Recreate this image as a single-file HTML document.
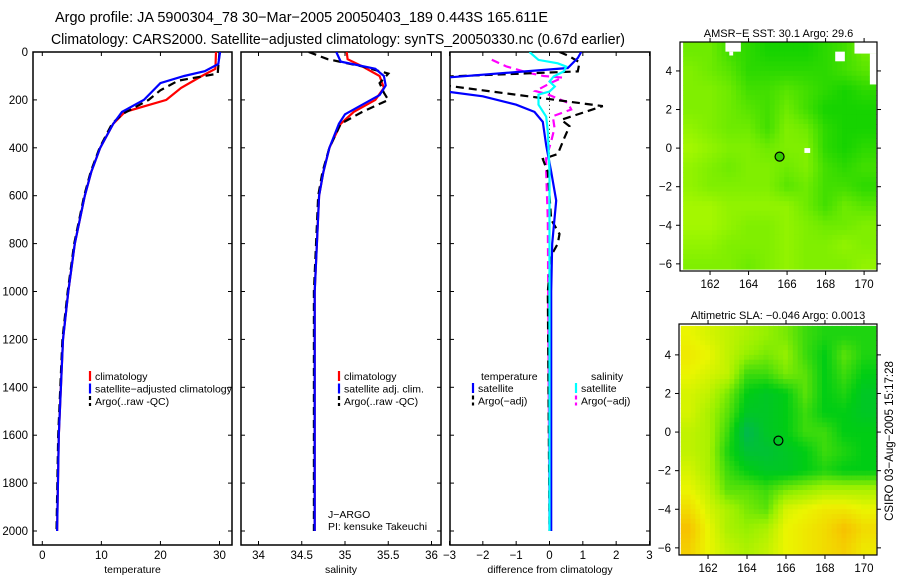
<!DOCTYPE html>
<html><head><meta charset="utf-8"><style>
html,body{margin:0;padding:0;background:#fff;}
svg{display:block;font-family:"Liberation Sans",sans-serif;}
</style></head><body>
<svg id="fig" width="900" height="580" viewBox="0 0 900 580" xmlns="http://www.w3.org/2000/svg">
<text x="55" y="22" font-size="14.5" textLength="493" lengthAdjust="spacingAndGlyphs">Argo profile: JA 5900304_78 30−Mar−2005 20050403_189 0.443S 165.611E</text>
<text x="51" y="44" font-size="14.5" textLength="574" lengthAdjust="spacingAndGlyphs">Climatology: CARS2000. Satellite−adjusted climatology: synTS_20050330.nc (0.67d earlier)</text>
<g id="g"></g>
</svg>
<script>
// ---- profile data ----
const depthTicks=[0,200,400,600,800,1000,1200,1400,1600,1800,2000];
const tempTicks=[0,10,20,30];
const salTicks=[34,34.5,35,35.5,36];
const diffTicks=[-3,-2,-1,0,1,2,3];
const tempClimDepth=[0,70,100,150,200,250,300,400,500,600,800,1000,1200,1600,2000];
const tempClim=[29.4,29.3,27,23.5,21,14,12,9.8,8.3,7.2,5.5,4.4,3.5,2.8,2.5];
const tempSatDepth=[0,50,80,100,130,200,250,300,400,500,600,800,1000,1200,1600,2000];
const tempSat=[30.1,29.8,27.5,24,20,17.2,13.5,12,9.8,8.3,7.2,5.5,4.4,3.5,2.8,2.5];
const tempArgoDepth=[0,90,120,160,200,260,300,400,500,600,800,1000,1200,1600,2000];
const tempArgo=[30,29.7,23,20,18,13.5,11.8,9.7,8.2,7.1,5.4,4.3,3.4,2.7,2.4];
const salClimDepth=[0,30,60,100,150,200,250,300,400,500,600,1000,2000];
const salClim=[35.02,35.03,35.2,35.4,35.45,35.35,35.1,34.95,34.82,34.75,34.7,34.65,34.65];
const salSatDepth=[0,40,70,100,140,180,230,260,300,400,500,600,1000,2000];
const salSat=[34.9,34.95,35.35,35.45,35.47,35.4,35.15,35.0,34.93,34.82,34.75,34.7,34.65,34.65];
const salArgoDepth=[0,30,60,90,130,170,200,250,300,400,500,600,1000,2000];
const salArgo=[34.58,34.8,35.2,35.5,35.4,35.45,35.5,35.2,34.95,34.82,34.74,34.69,34.64,34.64];
const dTSatDepth=[0,25,67,108,135,163,185,220,250,292,390,500,620,800,1000,2000];
const dTSat=[0.95,0.85,0.55,-3.2,-3.6,-3.2,-2,-1,-0.45,-0.2,-0.1,0.05,0.2,0.08,0.05,0.05];
const dTArgoDepth=[0,18,43,81,103,120,138,226,283,310,357,426,447,500,700,760,800,850,1000,2000];
const dTArgo=[0.3,0.6,0.9,0.85,-3.2,-3.6,-3.2,1.6,0.35,0.6,0.45,0.25,-0.2,-0.05,0.05,0.3,0.25,0.05,-0.05,0];
const dSSatDepth=[0,33,47,61,81,102,123,144,165,178,220,270,333,500,2000];
const dSSat=[-0.6,-0.33,0.25,0.5,0.43,0.13,0,0.16,0,-0.33,-0.33,-0.1,-0.05,0,0];
const dSArgoDepth=[32,60,88,100,107,128,163,177,212,240,268,317,373,443,500,700,2000];
const dSArgo=[-1.73,-1.3,-0.6,-0.17,0.4,0.05,-0.42,-0.05,0.55,0.65,0.1,0.15,0.05,-0.1,-0.1,-0.05,0];
// ---- map data (values 0..1), rows lat 5..-6, cols lon 161..170 ----
const mapLats=[5,4,3,2,1,0,-1,-2,-3,-4,-5,-6];
const mapLons=[161,162,163,164,165,166,167,168,169,170];
const sstGrid=[
[0.5,0.5,0.3,0.2,0.1,0.1,0.1,0.2,0.3,0.5],
[0.6,0.5,0.4,0.2,0.2,0.2,0.2,0.2,0.3,0.4],
[0.6,0.6,0.5,0.3,0.3,0.4,0.3,0.2,0.1,0.2],
[0.6,0.6,0.5,0.4,0.3,0.5,0.3,0.1,0.1,0.1],
[0.7,0.6,0.5,0.5,0.3,0.6,0.5,0.2,0.1,0.1],
[0.8,0.7,0.6,0.6,0.5,0.6,0.6,0.2,0.1,0.2],
[0.7,0.6,0.5,0.6,0.6,0.5,0.6,0.3,0.2,0.3],
[0.7,0.6,0.6,0.6,0.6,0.4,0.5,0.3,0.3,0.2],
[0.8,0.8,0.7,0.7,0.7,0.7,0.5,0.3,0.5,0.4],
[0.8,0.8,0.7,0.6,0.6,0.7,0.6,0.5,0.5,0.6],
[0.7,0.7,0.6,0.6,0.6,0.7,0.6,0.6,0.7,0.6],
[0.6,0.6,0.6,0.5,0.6,0.7,0.6,0.6,0.6,0.7]];
const slaGrid=[
[0.75,0.7,0.65,0.6,0.55,0.5,0.4,0.35,0.35,0.35],
[0.8,0.75,0.65,0.55,0.5,0.55,0.4,0.3,0.45,0.35],
[0.75,0.7,0.65,0.4,0.4,0.5,0.45,0.3,0.4,0.3],
[0.7,0.65,0.5,0.3,0.25,0.3,0.45,0.3,0.35,0.25],
[0.7,0.6,0.45,0.25,0.25,0.3,0.4,0.3,0.3,0.25],
[0.65,0.6,0.4,0.12,0.25,0.3,0.4,0.4,0.3,0.3],
[0.65,0.6,0.35,0.2,0.2,0.25,0.3,0.4,0.35,0.3],
[0.7,0.6,0.4,0.3,0.25,0.25,0.3,0.35,0.3,0.3],
[0.75,0.65,0.45,0.45,0.4,0.5,0.55,0.6,0.6,0.6],
[0.85,0.7,0.6,0.5,0.45,0.7,0.75,0.8,0.8,0.75],
[0.95,0.75,0.6,0.55,0.6,0.75,0.8,0.85,0.95,0.85],
[0.9,0.75,0.65,0.6,0.65,0.75,0.8,0.85,0.9,0.8]];
const lonTicks=[162,164,166,168,170];
const latTicks=[4,2,0,-2,-4,-6];
const argoLon=165.611, argoLat=-0.443;

const NS='http://www.w3.org/2000/svg';
const G=document.getElementById('g');
function mk(tag,attrs,parent){const e=document.createElementNS(NS,tag);for(const k in attrs)e.setAttribute(k,attrs[k]);(parent||G).appendChild(e);return e;}
function txt(s,x,y,size,anchor){const e=mk('text',{x:x,y:y,'font-size':size,'text-anchor':anchor||'start'});e.textContent=s;return e;}

const TOP=52, BOT=545;
const yD=d=>TOP+d*0.2395;
function panel(name,L,R,x0,x1,v0,v1,ticks,label,showY){
  const xs=v=>x0+(v-v0)*(x1-x0)/(v1-v0);
  const r=mk('rect',{x:L,y:TOP,width:R-L,height:BOT-TOP,fill:'none',stroke:'#000','stroke-width':1.5});
  
  
  ticks.forEach(t=>{const x=xs(t);
    mk('line',{x1:x,y1:BOT,x2:x,y2:BOT-4,stroke:'#000'});
    mk('line',{x1:x,y1:TOP,x2:x,y2:TOP+4,stroke:'#000'});
    const e=txt(String(t).replace('-','−'),x,559,11.5,'middle');
    
    });
  depthTicks.forEach(d=>{const y=yD(d);
    mk('line',{x1:L,y1:y,x2:L+4,y2:y,stroke:'#000'});
    mk('line',{x1:R,y1:y,x2:R-4,y2:y,stroke:'#000'});
    if(showY){const e=txt(String(d),28,y+4,11.5,'end');
      
      }});
  const a=txt(label,(L+R)/2,573,10.5,'middle');
  
  
  const cp=mk('clipPath',{id:'cp'+name});
  mk('rect',{x:L,y:TOP,width:R-L,height:BOT-TOP},cp);
  return xs;
}
function line(xs,depths,vals,color,dash,name,clip){
  const pts=depths.map((d,i)=>xs(vals[i]).toFixed(1)+','+yD(d).toFixed(1)).join(' ');
  const p=mk('polyline',{points:pts,fill:'none',stroke:color,'stroke-width':2.2,'stroke-dasharray':dash||'none','clip-path':'url(#cp'+clip+')'});
  
  
}
function legend(x,y,items,name){
  items.forEach((it,i)=>{const yy=y+i*12.5;
    mk('line',{x1:x,y1:yy-9,x2:x,y2:yy+1,stroke:it[0],'stroke-width':2.2,'stroke-dasharray':it[2]||'none'});
    const e=txt(it[1],x+5,yy,10.5);
    
    });
}
// temperature
const xT=panel('temperature',33,232,42.3,219.5,0,30,tempTicks,'temperature',true);
line(xT,tempClimDepth,tempClim,'#f00',null,'temperature-climatology-line','temperature');
line(xT,tempArgoDepth,tempArgo,'#000','8,5','temperature-argo-line','temperature');
line(xT,tempSatDepth,tempSat,'#00f',null,'temperature-satellite-line','temperature');
legend(90,380,[['#f00','climatology'],['#00f','satellite−adjusted climatology'],['#000','Argo(..raw -QC)','4,3']],'temperature-legend');
// salinity
const xS=panel('salinity',241,441,258.5,431.5,34,36,salTicks,'salinity',false);
line(xS,salClimDepth,salClim,'#f00',null,'salinity-climatology-line','salinity');
line(xS,salArgoDepth,salArgo,'#000','8,5','salinity-argo-line','salinity');
line(xS,salSatDepth,salSat,'#00f',null,'salinity-satellite-line','salinity');
legend(339,380,[['#f00','climatology'],['#00f','satellite adj. clim.'],['#000','Argo(..raw -QC)','4,3']],'salinity-legend');
const j1=txt('J−ARGO',328,518,10.5);
const j2=txt('PI: kensuke Takeuchi',328,530,10.5);
// difference
const xF=panel('difference',450,650,449.5,649.5,-3,3,diffTicks,'difference from climatology',false);
mk('line',{x1:xF(0),y1:yD(170),x2:xF(0),y2:yD(430),stroke:'#000','stroke-dasharray':'1,3'});
line(xF,dSArgoDepth,dSArgo,'#f0f','8,5','salinity-argo-diff-line','difference');
line(xF,dTArgoDepth,dTArgo,'#000','8,5','temperature-argo-diff-line','difference');
line(xF,dTSatDepth,dTSat,'#00f',null,'temperature-satellite-diff-line','difference');
line(xF,dSSatDepth,dSSat,'#0ff',null,'salinity-satellite-diff-line','difference');
const t1=txt('temperature',481,380,10.5);
const t2=txt('salinity',591,380,10.5);
legend(473,392,[['#00f','satellite'],['#000','Argo(−adj)','4,3']],'diff-temperature-legend');
legend(576,392,[['#0ff','satellite'],['#f0f','Argo(−adj)','4,3']],'diff-salinity-legend');

// ---- maps ----
function lerpC(stops,v){v=Math.max(0,Math.min(1,v));for(let i=1;i<stops.length;i++){if(v<=stops[i][0]){const a=stops[i-1],b=stops[i],t=(v-a[0])/(b[0]-a[0]);
  return 'rgb('+[0,1,2].map(k=>Math.round(a[1][k]+(b[1][k]-a[1][k])*t)).join(',')+')';}}return 'rgb('+stops[stops.length-1][1].join(',')+')';}
const sstStops=[[0,[0,205,0]],[0.5,[110,235,0]],[1,[200,255,0]]];
const slaStops=[[0,[0,170,120]],[0.3,[0,205,20]],[0.55,[150,240,0]],[0.75,[235,245,0]],[1,[250,180,0]]];
function sample(grid,lat,lon){
  let r=(mapLats[0]-lat),c=(lon-mapLons[0]);
  r=Math.max(0,Math.min(mapLats.length-1,r));c=Math.max(0,Math.min(mapLons.length-1,c));
  const r0=Math.floor(r),c0=Math.floor(c),r1=Math.min(r0+1,mapLats.length-1),c1=Math.min(c0+1,mapLons.length-1),fr=r-r0,fc=c-c0;
  return grid[r0][c0]*(1-fr)*(1-fc)+grid[r0][c1]*(1-fr)*fc+grid[r1][c0]*fr*(1-fc)+grid[r1][c1]*fr*fc;
}
function map(name,L,R,T,B,lonL,lonR,latT,latB,grid,stops,title,step,filled,masks){
  const X=lon=>L+(lon-lonL)*(R-L)/(lonR-lonL), Y=lat=>T+(latT-lat)*(B-T)/(latT-latB);
  const cp=mk('clipPath',{id:'cp'+name});mk('rect',{x:L,y:T,width:R-L,height:B-T},cp);
  const g=mk('g',{'clip-path':'url(#cp'+name+')'});
  
  
  for(let lat=5.5;lat>-6.5;lat-=step){for(let lon=160.6;lon<170.6;lon+=step){
    const v=sample(grid,lat-step/2,lon+step/2);
    const cell=mk('rect',{x:X(lon).toFixed(1),y:Y(lat).toFixed(1),width:(X(lon+step)-X(lon)+0.6).toFixed(1),height:(Y(lat-step)-Y(lat)+0.6).toFixed(1),fill:lerpC(stops,v)},g);
    
    }}
  (masks||[]).forEach(m=>mk('rect',{x:X(m[0]),y:Y(m[1]),width:X(m[2])-X(m[0]),height:Y(m[3])-Y(m[1]),fill:'#fff'},g));
  mk('rect',{x:L,y:T,width:R-L,height:B-T,fill:'none',stroke:'#000','stroke-width':1.2});
  lonTicks.forEach(t=>{const x=X(t);mk('line',{x1:x,y1:B,x2:x,y2:B+4,stroke:'#000'});mk('line',{x1:x,y1:T,x2:x,y2:T-4,stroke:'#000'});
    const e=txt(String(t),x,B+17,11.5,'middle');});
  latTicks.forEach(t=>{const y=Y(t);mk('line',{x1:L,y1:y,x2:L-4,y2:y,stroke:'#000'});mk('line',{x1:R,y1:y,x2:R+4,y2:y,stroke:'#000'});
    const e=txt(String(t).replace('-','−'),L-8,y+4,11.5,'end');});
  const tt=txt(title,(L+R)/2,T-5,11,'middle');
  const c=mk('circle',{cx:X(argoLon),cy:Y(argoLat),r:4.5,fill:filled?'#33cc00':'none',stroke:'#000','stroke-width':1.2});
  
  
}
map('sst-map',680,877,42,271,160.44,170.67,5.5,-6.37,sstGrid,sstStops,'AMSR−E SST: 30.1 Argo: 29.6',0.25,true,
  [[162.8,5.5,163.6,5.0],[163,5.0,163.2,4.8],[168.5,5.0,169.0,4.5],[169.5,5.5,170.7,4.9],[170.3,4.9,170.7,3.3],[166.9,0,167.2,-0.25],[160.44,-6.3,170.67,-6.4]]);
map('sla-map',679,877,324,555,160.51,170.67,5.6,-6.37,slaGrid,slaStops,'Altimetric SLA: −0.046 Argo: 0.0013',0.25,false,[]);
const cs=mk('text',{x:0,y:0,'font-size':11.5,'text-anchor':'middle',transform:'translate(893,441) rotate(-90)'});
cs.textContent='CSIRO 03−Aug−2005 15:17:28';


</script>
</body></html>
